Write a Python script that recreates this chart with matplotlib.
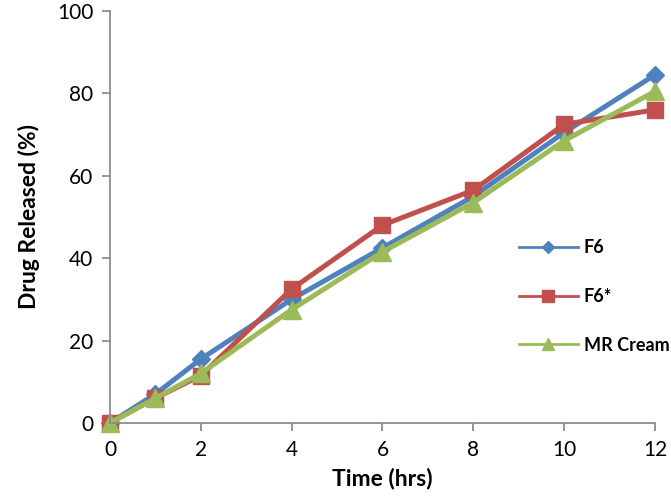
import matplotlib
matplotlib.use("Agg")
import matplotlib.pyplot as plt
from matplotlib.lines import Line2D

plt.rcParams['font.family'] = ['Lato', 'DejaVu Sans']

time_hrs = [0, 1, 2, 4, 6, 8, 10, 12]
f6 = [0, 7, 15.5, 30, 42.5, 55, 70.5, 84.5]
f6_star = [0, 6, 11.5, 32.5, 48, 56.5, 72.5, 76]
mr_cream = [0, 6, 12, 27.5, 41.5, 53.5, 68.5, 80.5]
labels = ['F6', 'F6*', 'MR Cream']
colors = ['#4F81BD', '#C0504D', '#9BBB59']
markers = ['D', 's', '^']
msizes = [9, 11.5, 13]
xticks = [0, 2, 4, 6, 8, 10, 12]
yticks = [0, 20, 40, 60, 80, 100]

fig = plt.figure(figsize=(6.71, 5.04), dpi=100)
ax = fig.add_axes([0.164, 0.161, 0.812, 0.817])

for y, c, m, ms in zip([f6, f6_star, mr_cream], colors, markers, msizes):
    ax.plot(time_hrs, y, color=c, marker=m, markersize=ms, linewidth=3.6,
            markeredgecolor=c, clip_on=False)

ax.set_xlim(0, 12)
ax.set_ylim(0, 100)
ax.set_xticks(xticks)
ax.set_yticks(yticks)
for s in ['top', 'right']:
    ax.spines[s].set_visible(False)
for s in ['left', 'bottom']:
    ax.spines[s].set_color('#8C8C8C')
    ax.spines[s].set_linewidth(1.3)
ax.tick_params(direction='out', length=6, width=1.3, color='#8C8C8C',
               labelsize=15, pad=6)
ax.set_xlabel('Time (hrs)', fontsize=16.5, fontweight='bold', labelpad=6)
ax.set_ylabel('Drug Released (%)', fontsize=16.5, fontweight='bold', labelpad=12)

handles = [Line2D([], [], color=c, marker=m, markersize=ms * 0.7, linewidth=2)
           for c, m, ms in zip(colors, markers, msizes)]
leg = ax.legend(handles, labels, loc='upper left', bbox_to_anchor=(0.72, 0.485),
                frameon=False, fontsize=13, handlelength=3.3,
                labelspacing=1.75, handletextpad=0.3)
for t in leg.get_texts():
    t.set_fontweight('bold')

fig.savefig('out.png', dpi=100)
